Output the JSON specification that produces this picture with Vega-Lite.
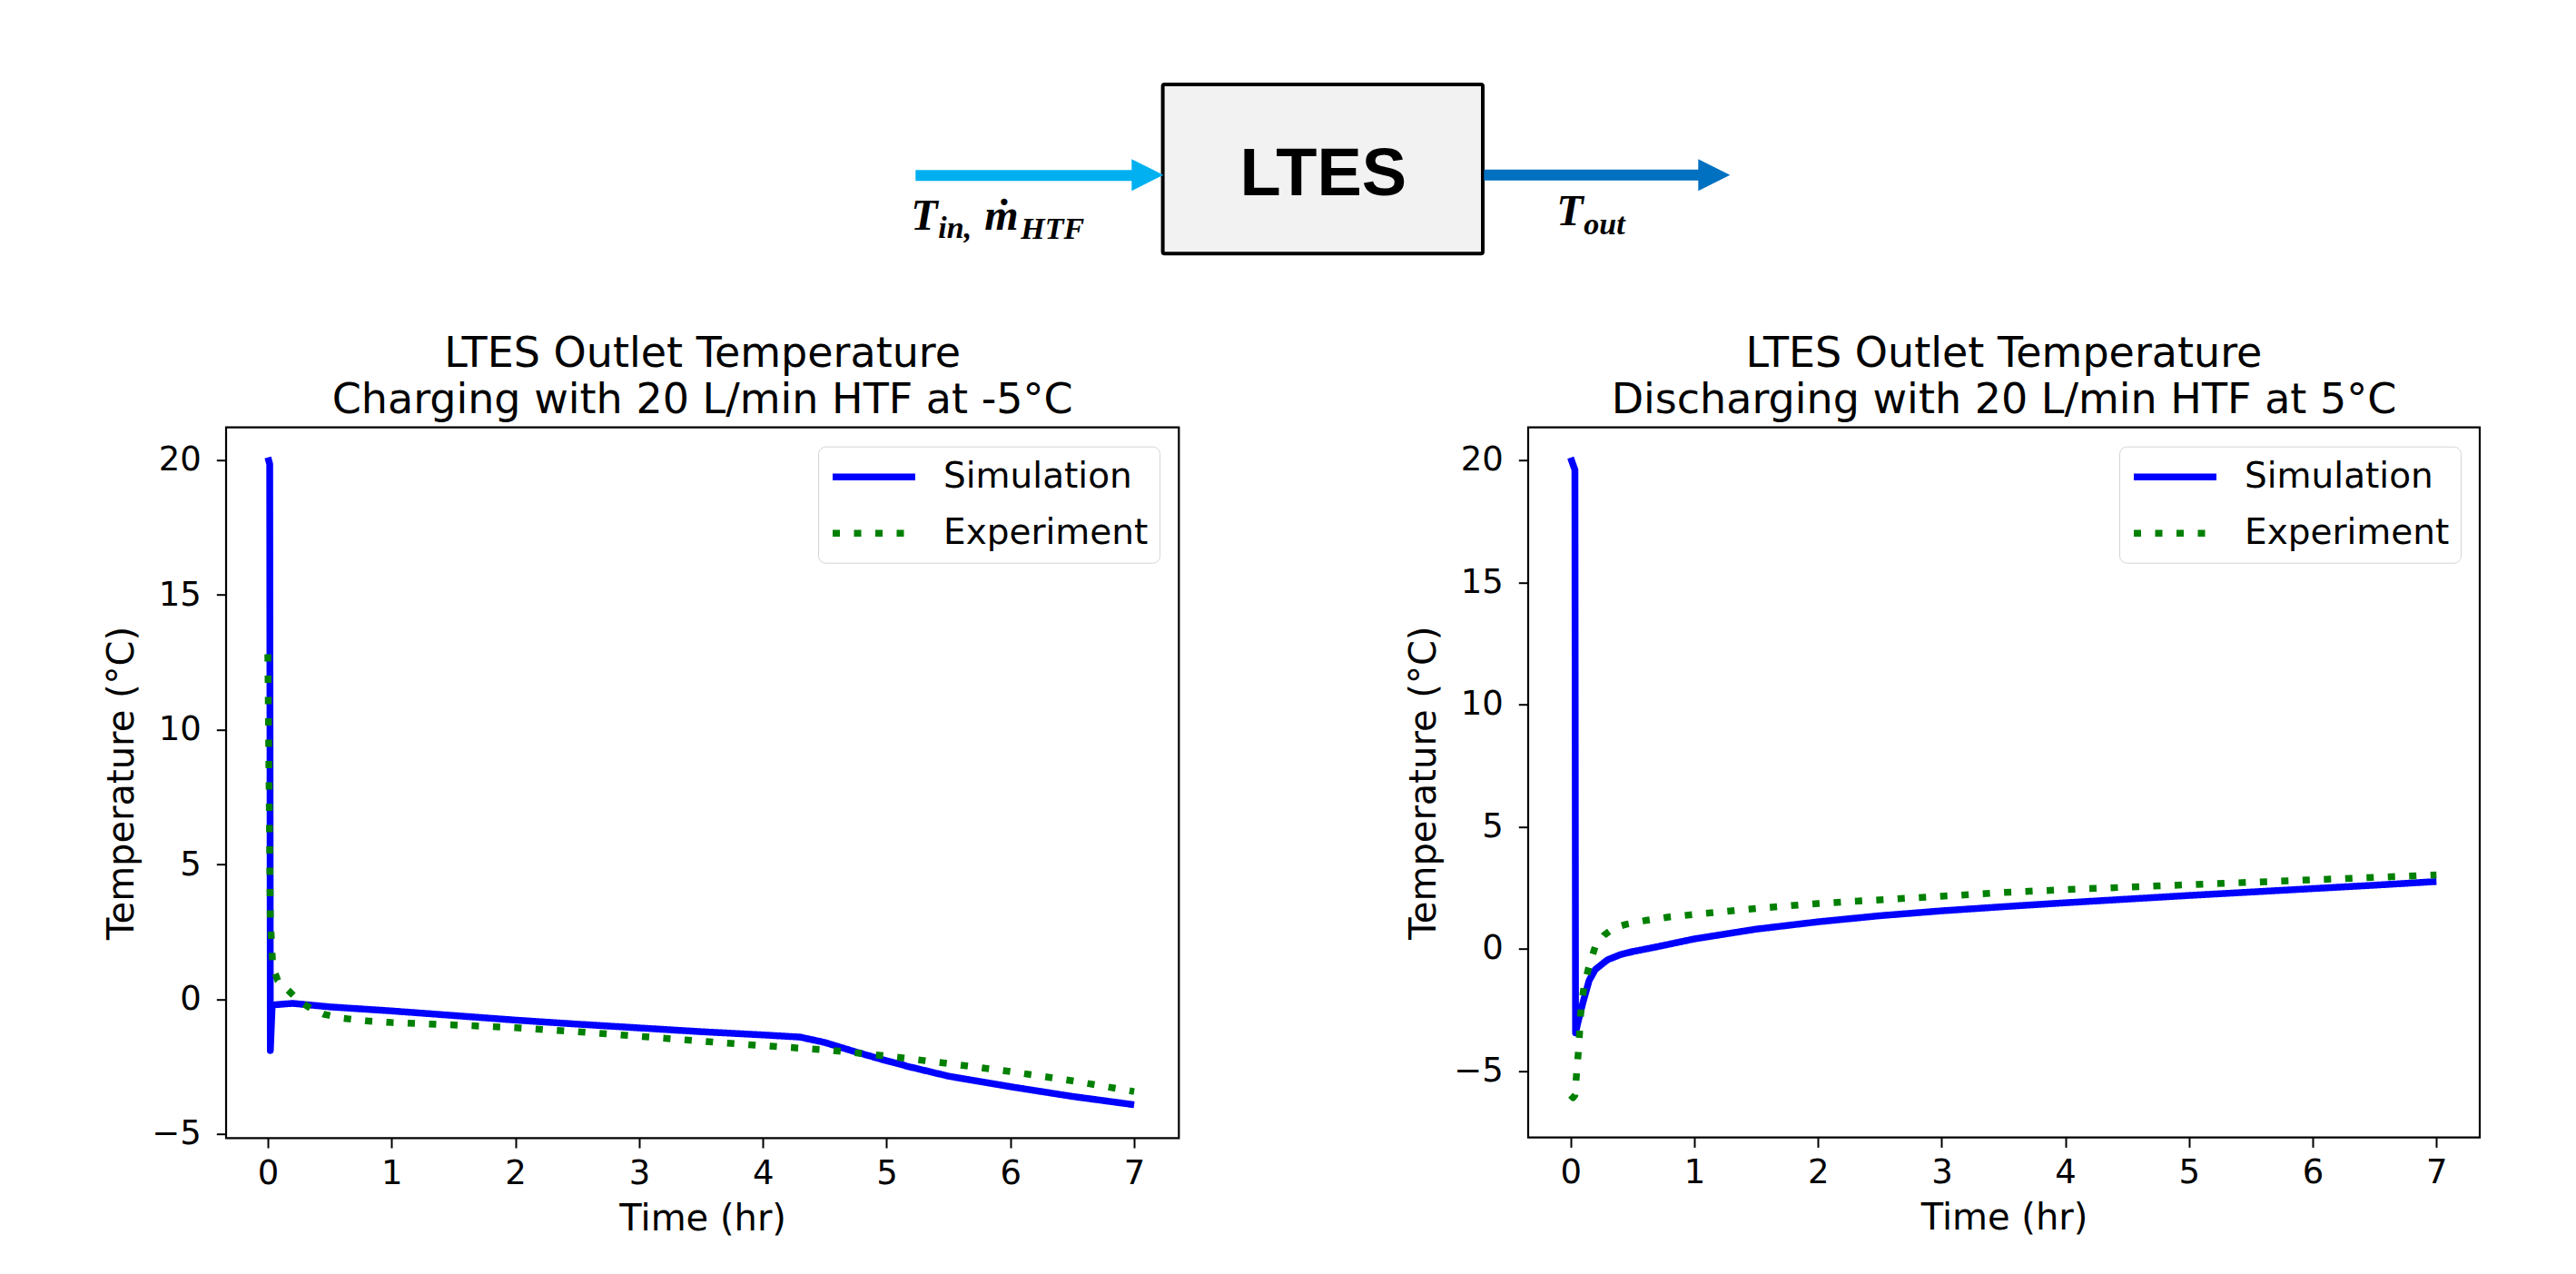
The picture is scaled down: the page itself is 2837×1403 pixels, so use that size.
{
  "$schema": "https://vega.github.io/schema/vega-lite/v6.json",
  "background": "white",
  "padding": {"left": 113, "top": 85, "right": 20, "bottom": 20},
  "bounds": "flush",
  "spacing": 170.7,
  "resolve": {"scale": {"x": "independent", "y": "independent", "color": "independent", "strokeDash": "independent"}, "legend": {"color": "independent", "strokeDash": "independent"}},
  "datasets": {
    "charge": [
      {"t": 0.0, "T": 20.1, "series": "Simulation"},
      {"t": 0.015, "T": 19.85, "series": "Simulation"},
      {"t": 0.02, "T": -1.9, "series": "Simulation"},
      {"t": 0.035, "T": -0.22, "series": "Simulation"},
      {"t": 0.06, "T": -0.2, "series": "Simulation"},
      {"t": 0.2, "T": -0.15, "series": "Simulation"},
      {"t": 0.5, "T": -0.28, "series": "Simulation"},
      {"t": 1.0, "T": -0.43, "series": "Simulation"},
      {"t": 1.5, "T": -0.6, "series": "Simulation"},
      {"t": 2.0, "T": -0.77, "series": "Simulation"},
      {"t": 2.5, "T": -0.92, "series": "Simulation"},
      {"t": 3.0, "T": -1.06, "series": "Simulation"},
      {"t": 3.5, "T": -1.2, "series": "Simulation"},
      {"t": 4.0, "T": -1.32, "series": "Simulation"},
      {"t": 4.3, "T": -1.4, "series": "Simulation"},
      {"t": 4.5, "T": -1.6, "series": "Simulation"},
      {"t": 4.75, "T": -1.95, "series": "Simulation"},
      {"t": 5.0, "T": -2.28, "series": "Simulation"},
      {"t": 5.2, "T": -2.52, "series": "Simulation"},
      {"t": 5.5, "T": -2.85, "series": "Simulation"},
      {"t": 6.0, "T": -3.24, "series": "Simulation"},
      {"t": 6.5, "T": -3.6, "series": "Simulation"},
      {"t": 7.0, "T": -3.91, "series": "Simulation"},
      {"t": 0.0, "T": 12.8, "series": "Experiment"},
      {"t": 0.01, "T": 8.0, "series": "Experiment"},
      {"t": 0.02, "T": 3.0, "series": "Experiment"},
      {"t": 0.04, "T": 1.2, "series": "Experiment"},
      {"t": 0.08, "T": 0.7, "series": "Experiment"},
      {"t": 0.15, "T": 0.4, "series": "Experiment"},
      {"t": 0.25, "T": -0.05, "series": "Experiment"},
      {"t": 0.35, "T": -0.35, "series": "Experiment"},
      {"t": 0.45, "T": -0.55, "series": "Experiment"},
      {"t": 0.6, "T": -0.7, "series": "Experiment"},
      {"t": 0.8, "T": -0.8, "series": "Experiment"},
      {"t": 1.0, "T": -0.86, "series": "Experiment"},
      {"t": 1.5, "T": -0.95, "series": "Experiment"},
      {"t": 2.0, "T": -1.05, "series": "Experiment"},
      {"t": 2.5, "T": -1.2, "series": "Experiment"},
      {"t": 3.0, "T": -1.37, "series": "Experiment"},
      {"t": 3.5, "T": -1.55, "series": "Experiment"},
      {"t": 4.0, "T": -1.72, "series": "Experiment"},
      {"t": 4.5, "T": -1.87, "series": "Experiment"},
      {"t": 5.0, "T": -2.1, "series": "Experiment"},
      {"t": 5.5, "T": -2.38, "series": "Experiment"},
      {"t": 6.0, "T": -2.68, "series": "Experiment"},
      {"t": 6.5, "T": -3.02, "series": "Experiment"},
      {"t": 7.0, "T": -3.42, "series": "Experiment"}
    ],
    "discharge": [
      {"t": 0.0, "T": 20.1, "series": "Simulation"},
      {"t": 0.035, "T": 19.6, "series": "Simulation"},
      {"t": 0.04, "T": -3.45, "series": "Simulation"},
      {"t": 0.06, "T": -3.0, "series": "Simulation"},
      {"t": 0.1, "T": -2.2, "series": "Simulation"},
      {"t": 0.15, "T": -1.3, "series": "Simulation"},
      {"t": 0.2, "T": -0.85, "series": "Simulation"},
      {"t": 0.3, "T": -0.45, "series": "Simulation"},
      {"t": 0.4, "T": -0.25, "series": "Simulation"},
      {"t": 0.5, "T": -0.12, "series": "Simulation"},
      {"t": 0.7, "T": 0.08, "series": "Simulation"},
      {"t": 1.0, "T": 0.4, "series": "Simulation"},
      {"t": 1.5, "T": 0.8, "series": "Simulation"},
      {"t": 2.0, "T": 1.1, "series": "Simulation"},
      {"t": 2.5, "T": 1.35, "series": "Simulation"},
      {"t": 3.0, "T": 1.55, "series": "Simulation"},
      {"t": 3.5, "T": 1.72, "series": "Simulation"},
      {"t": 4.0, "T": 1.88, "series": "Simulation"},
      {"t": 4.5, "T": 2.03, "series": "Simulation"},
      {"t": 5.0, "T": 2.18, "series": "Simulation"},
      {"t": 5.5, "T": 2.32, "series": "Simulation"},
      {"t": 6.0, "T": 2.46, "series": "Simulation"},
      {"t": 6.5, "T": 2.6, "series": "Simulation"},
      {"t": 7.0, "T": 2.75, "series": "Simulation"},
      {"t": 0.0, "T": -6.0, "series": "Experiment"},
      {"t": 0.02, "T": -6.1, "series": "Experiment"},
      {"t": 0.035, "T": -6.0, "series": "Experiment"},
      {"t": 0.05, "T": -5.0, "series": "Experiment"},
      {"t": 0.065, "T": -4.1, "series": "Experiment"},
      {"t": 0.075, "T": -3.25, "series": "Experiment"},
      {"t": 0.085, "T": -2.4, "series": "Experiment"},
      {"t": 0.11, "T": -1.5, "series": "Experiment"},
      {"t": 0.15, "T": -0.7, "series": "Experiment"},
      {"t": 0.2, "T": 0.1, "series": "Experiment"},
      {"t": 0.27, "T": 0.55, "series": "Experiment"},
      {"t": 0.35, "T": 0.85, "series": "Experiment"},
      {"t": 0.45, "T": 1.0, "series": "Experiment"},
      {"t": 0.6, "T": 1.15, "series": "Experiment"},
      {"t": 0.8, "T": 1.3, "series": "Experiment"},
      {"t": 1.0, "T": 1.4, "series": "Experiment"},
      {"t": 1.5, "T": 1.65, "series": "Experiment"},
      {"t": 2.0, "T": 1.85, "series": "Experiment"},
      {"t": 2.5, "T": 2.0, "series": "Experiment"},
      {"t": 3.0, "T": 2.15, "series": "Experiment"},
      {"t": 3.5, "T": 2.3, "series": "Experiment"},
      {"t": 4.0, "T": 2.42, "series": "Experiment"},
      {"t": 4.5, "T": 2.52, "series": "Experiment"},
      {"t": 5.0, "T": 2.62, "series": "Experiment"},
      {"t": 5.5, "T": 2.72, "series": "Experiment"},
      {"t": 6.0, "T": 2.82, "series": "Experiment"},
      {"t": 6.5, "T": 2.92, "series": "Experiment"},
      {"t": 7.0, "T": 3.02, "series": "Experiment"}
    ]
  },
  "config": {
    "font": "DejaVu Sans",
    "view": {"stroke": "black", "strokeWidth": 2.2},
    "axis": {
      "domain": false, "grid": false, "ticks": true, "tickColor": "black", "tickWidth": 2, "tickSize": 10.7,
      "labelFont": "DejaVu Sans", "labelFontSize": 37, "labelColor": "black", "labelFlush": false, "labelOverlap": false,
      "titleFont": "DejaVu Sans", "titleFontSize": 40, "titleFontWeight": "normal", "titleColor": "black"
    },
    "axisX": {"labelPadding": 10, "titlePadding": 12},
    "axisY": {"labelPadding": 17, "titlePadding": 12},
    "title": {"font": "DejaVu Sans", "fontSize": 46, "fontWeight": "normal", "color": "black", "anchor": "middle", "frame": "group", "baseline": "alphabetic", "offset": 6, "lineHeight": 51},
    "legend": {
      "title": null, "orient": "top-right", "offset": 21, "fillColor": "white", "strokeColor": "#d4d4d4", "cornerRadius": 8, "padding": 12,
      "symbolType": "M-1,0H4.2", "symbolSize": 1225, "symbolStrokeWidth": 7.5,
      "labelFont": "DejaVu Sans", "labelFontSize": 39, "labelColor": "black", "labelOffset": 83, "rowPadding": 20, "labelLimit": 0
    }
  },
  "vconcat": [
    {
      "width": 2481,
      "height": 215,
      "view": {"stroke": null, "fill": "white"},
      "layer": [
        {
          "data": {"values": [{"x": 1278.3, "x2": 1630.7, "y": 93, "y2": 279.3}]},
          "mark": {"type": "rect", "fill": "#f2f2f2", "stroke": "black", "strokeWidth": 4, "cornerRadius": 2},
          "encoding": {
            "x": {"field": "x", "type": "quantitative", "scale": {"domain": [246.7, 2727.7], "nice": false, "zero": false}, "axis": null},
            "x2": {"field": "x2"},
            "y": {"field": "y", "type": "quantitative", "scale": {"domain": [85, 300], "nice": false, "zero": false, "reverse": true}, "axis": null},
            "y2": {"field": "y2"}
          }
        },
        {
          "data": {"values": [{"x": 1006, "x2": 1247, "y": 193.3}]},
          "mark": {"type": "rule", "stroke": "#00b0f0", "strokeWidth": 12},
          "encoding": {
            "x": {"field": "x", "type": "quantitative"},
            "x2": {"field": "x2"},
            "y": {"field": "y", "type": "quantitative"}
          }
        },
        {
          "data": {"values": [{"x": 1632, "x2": 1869, "y": 192.7}]},
          "mark": {"type": "rule", "stroke": "#0070c0", "strokeWidth": 12},
          "encoding": {
            "x": {"field": "x", "type": "quantitative"},
            "x2": {"field": "x2"},
            "y": {"field": "y", "type": "quantitative"}
          }
        },
        {
          "data": {"values": [{"x": 1261.5, "y": 192.7}]},
          "mark": {"type": "point", "shape": "M-1,-1L1,0L-1,1Z", "size": 1225, "filled": true, "fill": "#00b0f0", "opacity": 1, "strokeWidth": 0},
          "encoding": {
            "x": {"field": "x", "type": "quantitative"},
            "y": {"field": "y", "type": "quantitative"}
          }
        },
        {
          "data": {"values": [{"x": 1885.5, "y": 192.7}]},
          "mark": {"type": "point", "shape": "M-1,-1L1,0L-1,1Z", "size": 1225, "filled": true, "fill": "#0070c0", "opacity": 1, "strokeWidth": 0},
          "encoding": {
            "x": {"field": "x", "type": "quantitative"},
            "y": {"field": "y", "type": "quantitative"}
          }
        },
        {
          "data": {"values": [{"x": 1455, "y": 215, "label": "LTES"}]},
          "mark": {"type": "text", "font": "Liberation Sans", "fontWeight": "bold", "fontSize": 74, "align": "center", "baseline": "alphabetic", "color": "black"},
          "encoding": {
            "x": {"field": "x", "type": "quantitative"},
            "y": {"field": "y", "type": "quantitative"},
            "text": {"field": "label"}
          }
        },
        {
          "data": {"values": [{"x": 1001, "y": 253, "label": "T"}, {"x": 1082, "y": 253, "label": "ṁ"}, {"x": 1712, "y": 248, "label": "T"}]},
          "mark": {"type": "text", "font": "Liberation Serif", "fontWeight": "bold", "fontStyle": "italic", "fontSize": 48, "align": "left", "baseline": "alphabetic", "color": "black"},
          "encoding": {
            "x": {"field": "x", "type": "quantitative"},
            "y": {"field": "y", "type": "quantitative"},
            "text": {"field": "label"}
          }
        },
        {
          "data": {"values": [{"x": 1031, "y": 262, "label": "in,"}, {"x": 1122, "y": 263, "label": "HTF"}, {"x": 1742, "y": 258, "label": "out"}]},
          "mark": {"type": "text", "font": "Liberation Serif", "fontWeight": "bold", "fontStyle": "italic", "fontSize": 34, "align": "left", "baseline": "alphabetic", "color": "black"},
          "encoding": {
            "x": {"field": "x", "type": "quantitative"},
            "y": {"field": "y", "type": "quantitative"},
            "text": {"field": "label"}
          }
        }
      ]
    },
    {
      "hconcat": [
        {
          "width": 1049.3,
          "height": 782.6,
          "title": {"text": ["LTES Outlet Temperature", "Charging with 20 L/min HTF at -5°C"]},
          "data": {"name": "charge"},
          "mark": {"type": "line", "strokeWidth": 7.5, "strokeCap": "butt", "strokeJoin": "round", "clip": true},
          "encoding": {
            "x": {"field": "t", "type": "quantitative", "scale": {"domain": [-0.3375, 7.361], "nice": false, "zero": false}, "axis": {"values": [0, 1, 2, 3, 4, 5, 6, 7], "title": "Time (hr)"}},
            "y": {"field": "T", "type": "quantitative", "scale": {"domain": [-5.145, 21.21], "nice": false, "zero": false}, "axis": {"values": [-5, 0, 5, 10, 15, 20], "title": "Temperature (°C)"}},
            "color": {"field": "series", "type": "nominal", "sort": ["Simulation", "Experiment"], "scale": {"domain": ["Simulation", "Experiment"], "range": ["#0000ff", "#008000"]}, "legend": {"title": null}},
            "strokeDash": {"field": "series", "type": "nominal", "sort": ["Simulation", "Experiment"], "scale": {"domain": ["Simulation", "Experiment"], "range": [[1, 0], [8, 15.5]]}, "legend": {"title": null}}
          }
        },
        {
          "width": 1048,
          "height": 782,
          "title": {"text": ["LTES Outlet Temperature", "Discharging with 20 L/min HTF at 5°C"]},
          "data": {"name": "discharge"},
          "mark": {"type": "line", "strokeWidth": 7.5, "strokeCap": "butt", "strokeJoin": "round", "clip": true},
          "encoding": {
            "x": {"field": "t", "type": "quantitative", "scale": {"domain": [-0.343, 7.35], "nice": false, "zero": false}, "axis": {"values": [0, 1, 2, 3, 4, 5, 6, 7], "title": "Time (hr)"}},
            "y": {"field": "T", "type": "quantitative", "scale": {"domain": [-7.73, 21.34], "nice": false, "zero": false}, "axis": {"values": [-5, 0, 5, 10, 15, 20], "title": "Temperature (°C)"}},
            "color": {"field": "series", "type": "nominal", "sort": ["Simulation", "Experiment"], "scale": {"domain": ["Simulation", "Experiment"], "range": ["#0000ff", "#008000"]}, "legend": {"title": null}},
            "strokeDash": {"field": "series", "type": "nominal", "sort": ["Simulation", "Experiment"], "scale": {"domain": ["Simulation", "Experiment"], "range": [[1, 0], [8, 15.5]]}, "legend": {"title": null}}
          }
        }
      ],
      "spacing": 384,
      "bounds": "flush",
      "resolve": {"scale": {"x": "independent", "y": "independent", "color": "independent", "strokeDash": "independent"}, "legend": {"color": "independent", "strokeDash": "independent"}}
    }
  ]
}
